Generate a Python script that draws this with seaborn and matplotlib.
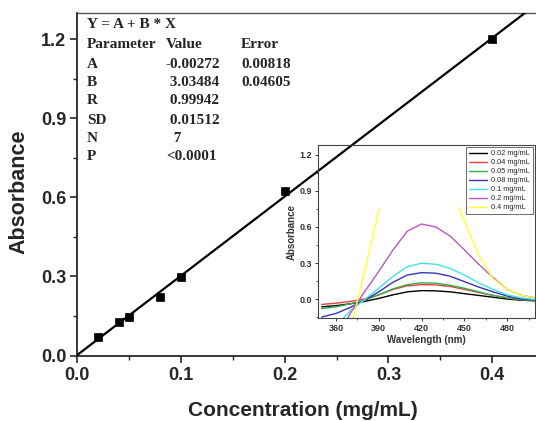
import numpy as np
import pandas as pd
import matplotlib
matplotlib.use("Agg")
import matplotlib.pyplot as plt
import seaborn as sns
from matplotlib.ticker import MultipleLocator, FormatStrFormatter

# ---------------- data ----------------
conc = [0.02, 0.04, 0.05, 0.08, 0.10, 0.20, 0.40]
absorb = [0.072, 0.128, 0.147, 0.223, 0.298, 0.623, 1.200]

fit_rows = [
    ("Y = A + B * X", "", ""),
    ("Parameter", "Value", "Error"),
    ("A", "-0.00272", "0.00818"),
    ("B", " 3.03484", "0.04605"),
    ("R", " 0.99942", ""),
    ("SD", " 0.01512", ""),
    ("N", "  7", ""),
    ("P", "<0.0001", ""),
]

wavelength = [350, 360, 370, 380, 390, 400, 410, 420, 430, 440, 450, 460, 470, 480, 490, 500]
spec_labels = ["0.02 mg/mL", "0.04 mg/mL", "0.05 mg/mL", "0.08 mg/mL",
               "0.1 mg/mL", "0.2 mg/mL", "0.4 mg/mL"]
spec_002 = [-0.065, -0.055, -0.040, -0.020, 0.005, 0.035, 0.060, 0.070, 0.068, 0.060, 0.045, 0.030, 0.015, 0.000, -0.010, -0.015]
spec_004 = [-0.045, -0.035, -0.020, 0.000, 0.035, 0.080, 0.110, 0.120, 0.118, 0.105, 0.080, 0.055, 0.030, 0.010, -0.005, -0.012]
spec_005 = [-0.080, -0.065, -0.040, -0.010, 0.035, 0.085, 0.120, 0.135, 0.132, 0.115, 0.090, 0.060, 0.030, 0.010, -0.005, -0.015]
spec_008 = [-0.150, -0.120, -0.070, -0.010, 0.060, 0.140, 0.200, 0.220, 0.215, 0.190, 0.145, 0.100, 0.060, 0.025, 0.000, -0.010]
spec_010 = [-0.350, -0.220, -0.100, -0.005, 0.090, 0.190, 0.270, 0.298, 0.290, 0.255, 0.200, 0.135, 0.080, 0.035, 0.010, -0.005]
spec_020 = [-0.600, -0.350, -0.120, 0.060, 0.230, 0.410, 0.565, 0.625, 0.600, 0.525, 0.410, 0.290, 0.180, 0.080, 0.030, 0.010]
spec_040 = [-1.000, -0.600, -0.260, 0.230, 0.730, 1.000, 1.150, 1.200, 1.150, 0.950, 0.650, 0.370, 0.170, 0.080, 0.030, 0.010]
spec_colors = ["#000000", "#e8403a", "#2fb04a", "#3535b5", "#45e0e8", "#c055c5", "#ffff33"]

spectra = [spec_002, spec_004, spec_005, spec_008, spec_010, spec_020, spec_040]
df_spec = pd.DataFrame({
    "wl": np.tile(wavelength, len(spectra)),
    "A": np.concatenate(spectra),
    "label": np.repeat(spec_labels, len(wavelength)),
})
df_cal = pd.DataFrame({"conc": conc, "abs": absorb})

# ---------------- style ----------------
sns.set_style("ticks")
plt.rcParams["font.family"] = ["Liberation Sans", "DejaVu Sans"]

W, H = 536, 421
fig = plt.figure(figsize=(W / 100, H / 100), dpi=100)

# main axes
ax = fig.add_axes([77.3 / W, 1 - 355.5 / H, 1 - 77.3 / W, (355.5 - 13) / H])
ax.set_xlim(0, 0.4423)
ax.set_ylim(0, 1.3)

sns.regplot(data=df_cal, x="conc", y="abs", ax=ax, ci=None, scatter=False,
            truncate=False, line_kws=dict(color="black", lw=1.6, zorder=4))
sns.scatterplot(data=df_cal, x="conc", y="abs", ax=ax, marker="s", s=40,
                color="black", edgecolor="black", zorder=5)
ax.set_xlim(0, 0.4423)
ax.set_ylim(0, 1.3)

ax.xaxis.set_major_locator(MultipleLocator(0.1))
ax.xaxis.set_minor_locator(MultipleLocator(0.05))
ax.yaxis.set_major_locator(MultipleLocator(0.3))
ax.yaxis.set_minor_locator(MultipleLocator(0.15))
ax.xaxis.set_major_formatter(FormatStrFormatter("%.1f"))
ax.yaxis.set_major_formatter(FormatStrFormatter("%.1f"))
ax.tick_params(which="major", direction="out", length=5, width=1.2,
               labelsize=13, pad=3)
ax.tick_params(which="minor", direction="out", length=3, width=1.0)
for lab in ax.get_xticklabels() + ax.get_yticklabels():
    lab.set_fontweight("bold")
for s in ["left", "bottom"]:
    ax.spines[s].set_linewidth(1.3)
ax.spines["top"].set_linewidth(1.0)
ax.spines["top"].set_color("#555555")
ax.spines["right"].set_visible(False)
ax.set_xlabel("Concentration (mg/mL)", fontsize=15, fontweight="bold")
ax.set_ylabel("Absorbance", fontsize=15.5, fontweight="bold")
ax.xaxis.set_label_coords((303 - 77.3) / (W - 77.3), -(401 - 355.5) / (355.5 - 13))
ax.yaxis.set_label_coords(-(77.3 - 29) / (W - 77.3), (355.5 - 192) / (355.5 - 13))

# fit table text
row_y = [25, 45, 64, 82, 101, 120, 139, 157]
col_x = [87, 166, 241]
for (c1, c2, c3), y in zip(fit_rows, row_y):
    for c, x in zip((c1, c2, c3), col_x):
        if c:
            if c1.startswith("Y"):
                x = 87
            fig.text(x / W, 1 - y / H, c, va="center", ha="left",
                     fontsize=11, fontweight="bold",
                     family=["Liberation Serif", "DejaVu Serif"])

# inset
axi = fig.add_axes([318 / W, 1 - 318 / H, 217 / W, 173 / H])
axi.patch.set_alpha(0)
sns.lineplot(data=df_spec, x="wl", y="A", hue="label", palette=spec_colors,
             hue_order=spec_labels, ax=axi, lw=1.0, sort=False)
axi.set_xlim(347.4, 499.5)
axi.set_ylim(-0.158, 1.283)
axi.axvspan(391, 446, ymin=(0.75 + 0.158) / (1.283 + 0.158), ymax=1,
            color="white", zorder=2.5, lw=0)
axi.xaxis.set_major_locator(MultipleLocator(30))
axi.xaxis.set_minor_locator(MultipleLocator(15))
axi.yaxis.set_major_locator(MultipleLocator(0.3))
axi.yaxis.set_minor_locator(MultipleLocator(0.15))
axi.yaxis.set_major_formatter(FormatStrFormatter("%.1f"))
axi.tick_params(which="major", direction="out", length=2.5, width=0.7,
                labelsize=6.5, colors="#333333", pad=1.5)
axi.tick_params(which="minor", direction="out", length=1.5, width=0.6, colors="#333333")
for lab in axi.get_xticklabels() + axi.get_yticklabels():
    lab.set_fontweight("bold")
for s in axi.spines.values():
    s.set_linewidth(0.8)
    s.set_color("#444444")
axi.set_xlabel("Wavelength (nm)", fontsize=7, fontweight="bold", color="#333333", labelpad=2)
axi.set_ylabel("Absorbance", fontsize=7, fontweight="bold", color="#333333", labelpad=2)

leg = axi.legend(loc="upper right", fontsize=5.3, frameon=True, fancybox=False,
                 edgecolor="#555555", framealpha=1, borderaxespad=0.3,
                 handlelength=2.4, labelspacing=0.25, borderpad=0.4,
                 handletextpad=0.6)
leg.get_frame().set_linewidth(0.6)
leg.set_zorder(6)

fig.savefig("out.png", dpi=100)
